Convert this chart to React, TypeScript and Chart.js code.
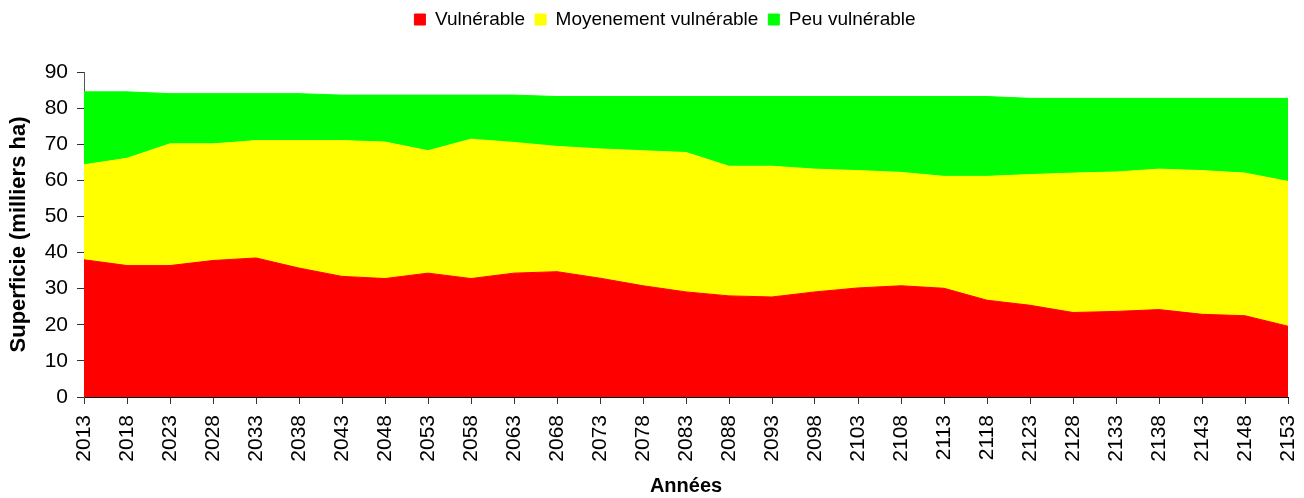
import React, { useEffect, useRef } from "react";
import { Chart, registerables } from "chart.js";

Chart.register(...registerables);

const years = [
  "2013", "2018", "2023", "2028", "2033", "2038", "2043", "2048", "2053", "2058",
  "2063", "2068", "2073", "2078", "2083", "2088", "2093", "2098", "2103", "2108",
  "2113", "2118", "2123", "2128", "2133", "2138", "2143", "2148", "2153",
];

const vulnerable = [
  38.0, 36.4, 36.4, 37.8, 38.5, 35.7, 33.4, 32.8, 34.3, 32.8,
  34.3, 34.7, 32.9, 30.8, 29.1, 28.0, 27.7, 29.1, 30.2, 30.8,
  30.1, 26.8, 25.4, 23.4, 23.7, 24.2, 22.9, 22.5, 19.6,
];

const moyennement = [
  26.3, 29.7, 33.7, 32.3, 32.5, 35.3, 37.6, 37.8, 33.9, 38.6,
  36.2, 34.7, 35.8, 37.4, 38.6, 35.9, 36.2, 34.0, 32.5, 31.4,
  31.0, 34.3, 36.2, 38.6, 38.6, 38.9, 39.8, 39.5, 40.1,
];

const peu = [
  20.2, 18.4, 13.9, 13.9, 13.0, 13.0, 12.6, 13.0, 15.4, 12.2,
  13.1, 13.8, 14.5, 15.0, 15.5, 19.3, 19.3, 20.1, 20.5, 21.0,
  22.1, 22.1, 21.1, 20.7, 20.4, 19.6, 20.0, 20.7, 23.0,
];

const seriesNames = ["Vulnérable", "Moyenement vulnérable", "Peu vulnérable"];
const yTitle = "Superficie (milliers ha)";
const xTitle = "Années";

const FONT = "'Liberation Sans', Arial, sans-serif";

export default function App() {
  const ref = useRef<HTMLCanvasElement | null>(null);

  useEffect(() => {
    document.body.style.margin = "0";
    document.body.style.overflow = "hidden";
    const canvas = ref.current;
    if (!canvas) return;

    const layoutPlugin = {
      id: "layoutTweaks",
      beforeLayout(chart: any) {
        const lg = chart.legend;
        if (lg && !lg._patched) {
          const f = lg.fit;
          lg.fit = function () {
            f.call(this);
            this.height = 72;
          };
          lg._patched = true;
        }
      },
      afterLayout(chart: any) {
        const lg = chart.legend;
        if (lg) {
          lg.left += 21;
          lg.right += 21;
        }
      },
    };

    const chart = new Chart(canvas, {
      type: "line",
      data: {
        labels: years,
        datasets: [
          {
            label: seriesNames[0],
            data: vulnerable,
            backgroundColor: "#FF0000",
            borderColor: "#FF0000",
            borderWidth: 1,
            pointRadius: 0,
            fill: "origin",
            tension: 0,
          },
          {
            label: seriesNames[1],
            data: moyennement,
            backgroundColor: "#FFFF00",
            borderColor: "#FFFF00",
            borderWidth: 1,
            pointRadius: 0,
            fill: "-1",
            tension: 0,
          },
          {
            label: seriesNames[2],
            data: peu,
            backgroundColor: "#00FF00",
            borderColor: "#00FF00",
            borderWidth: 1,
            pointRadius: 0,
            fill: "-1",
            tension: 0,
          },
        ],
      },
      options: {
        animation: false,
        responsive: true,
        maintainAspectRatio: false,
        layout: { padding: { left: 0, right: 16, top: 0, bottom: 0 } },
        plugins: {
          legend: {
            display: true,
            position: "top",
            labels: {
              boxWidth: 11,
              boxHeight: 11,
              padding: 10,
              color: "#000",
              font: { family: FONT, size: 19 },
            },
          },
          tooltip: { enabled: false },
        },
        scales: {
          x: {
            type: "category",
            offset: false,
            grid: {
              display: true,
              drawOnChartArea: false,
              drawTicks: true,
              tickLength: 7,
              color: "#333",
            },
            border: { display: true, color: "#000", width: 1 },
            ticks: {
              autoSkip: false,
              maxRotation: 90,
              minRotation: 90,
              padding: 11,
              color: "#000",
              font: { family: FONT, size: 21 },
            },
            title: {
              display: true,
              text: xTitle,
              color: "#000",
              font: { family: FONT, size: 20, weight: "bold" },
              padding: { top: 0, bottom: 0 },
            },
            afterFit: (s: any) => {
              s.height = 101;
              s.paddingLeft = 0;
              s.paddingRight = 0;
            },
          },
          y: {
            stacked: true,
            min: 0,
            max: 90,
            grid: {
              display: true,
              drawOnChartArea: false,
              drawTicks: true,
              tickLength: 7,
              color: "#333",
            },
            border: { display: true, color: "#555", width: 1 },
            ticks: {
              stepSize: 10,
              padding: 9,
              color: "#000",
              font: { family: FONT, size: 21 },
            },
            title: {
              display: true,
              text: yTitle,
              color: "#000",
              font: { family: FONT, size: 22, weight: "bold" },
              padding: { top: 6, bottom: 0 },
            },
            afterFit: (s: any) => {
              s.width = 84;
            },
          },
        },
      },
      plugins: [layoutPlugin],
    });

    return () => {
      chart.destroy();
    };
  }, []);

  return (
    <div style={{ position: "relative", width: 1304, height: 498 }}>
      <canvas ref={ref} />
    </div>
  );
}
